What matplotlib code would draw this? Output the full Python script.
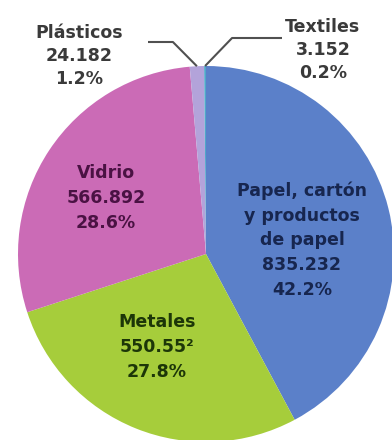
import matplotlib

matplotlib.use("Agg")

import matplotlib.pyplot as plt
import numpy as np

plt.rcParams["font.family"] = ["DejaVu Sans"]

CATEGORIES = ["Papel, cartón\ny productos\nde papel", "Metales", "Vidrio", "Plásticos", "Textiles"]
VALUES = [835.232, 550.552, 566.892, 24.182, 3.152]
VALUE_LABELS = ["835.232", "550.55²", "566.892", "24.182", "3.152"]
PERCENT_LABELS = ["42.2%", "27.8%", "28.6%", "1.2%", "0.2%"]

COLORS = ["#5B80C9", "#A6CD3B", "#CB6BB6", "#B3A3DA", "#4FA8C8"]
TEXT_COLORS = ["#17264F", "#1C3608", "#4A1243", "#3A3A3A", "#3A3A3A"]

W, H = 392, 440
CX, CY, R = 206, H - 254, 188


def main():
    fig = plt.figure(figsize=(W / 100, H / 100), dpi=100)
    ax = fig.add_axes([0, 0, 1, 1])

    wedges, _ = ax.pie(
        VALUES,
        colors=COLORS,
        startangle=90,
        counterclock=False,
        center=(CX, CY),
        radius=R,
        wedgeprops=dict(linewidth=0),
    )
    # pie() rescales the axes, so pin them to pixel units afterwards
    ax.set_xlim(0, W)
    ax.set_ylim(0, H)
    ax.set_aspect("equal")
    ax.axis("off")

    labels = [f"{c}\n{v}\n{p}" for c, v, p in zip(CATEGORIES, VALUE_LABELS, PERCENT_LABELS)]

    # inside labels (pixel positions measured from top-left)
    inside = {0: (302, 240), 1: (157, 347), 2: (106, 198)}
    for i, (x, y) in inside.items():
        ax.text(x, H - y, labels[i], ha="center", va="center", fontsize=12.5, fontweight="bold",
                color=TEXT_COLORS[i], linespacing=1.48)

    # outside labels with leader lines to the small slices
    outside = {3: ((79, 56), (148, 42), -1, 24), 4: ((323, 50), (282, 38), 1, 27)}
    for i, ((tx, ty), (lx, ly), side, dx) in outside.items():
        ax.text(tx, H - ty, labels[i], ha="center", va="center", fontsize=12.5, fontweight="bold",
                color=TEXT_COLORS[i], linespacing=1.36)
        w = wedges[i]
        mid = np.deg2rad((w.theta1 + w.theta2) / 2)
        px, py = CX + R * np.cos(mid), CY + R * np.sin(mid)
        knee = (px + side * dx, H - ly)
        ax.plot([px, knee[0], lx], [py, knee[1], H - ly], color="#505050", linewidth=1.5,
                solid_capstyle="butt", zorder=5)

    fig.savefig("out.png", dpi=100, facecolor="white")
    plt.close(fig)


if __name__ == "__main__":
    main()
